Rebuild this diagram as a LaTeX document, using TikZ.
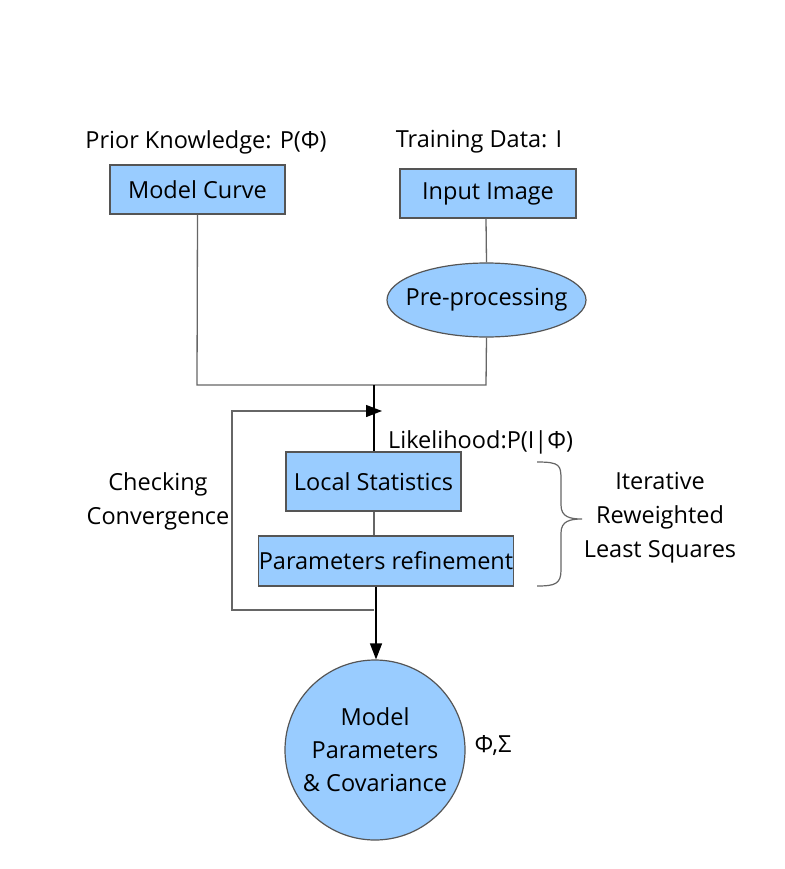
\documentclass[tikz,border=0pt]{standalone}
\usepackage{fontspec}
\setmainfont{Open Sans}
\usetikzlibrary{arrows.meta,shapes.geometric,decorations.pathreplacing}
\definecolor{boxfill}{HTML}{99CCFF}
\definecolor{boxline}{HTML}{555555}
\definecolor{wire}{HTML}{666666}
\begin{document}
\begin{tikzpicture}[x=1pt,y=-1pt,
  txt/.style={font=\fontsize{23.5}{28}\selectfont, inner sep=0pt},
  bluebox/.style={draw=boxline, fill=boxfill, line width=1.2pt, inner sep=0pt, font=\fontsize{23.5}{28}\selectfont},
  wireline/.style={draw=wire, line width=1.3pt},
  mainline/.style={draw=black, line width=1.3pt},
  tip/.style={-{Triangle[length=16pt,width=12pt,color=black]}}
]
\useasboundingbox (0,0) rectangle (784,869);
\fill[white] (0,0) rectangle (784,869);

\node[txt] (prior) at (206,142) {Prior Knowledge: P(Φ)};
\node[txt] (train) at (479,142) {Training Data: I};

\node[bluebox, minimum width=175pt, minimum height=49pt] (curve) at (197.5,189.5) {Model Curve};
\node[bluebox, minimum width=176pt, minimum height=49pt] (input) at (488,193.5) {Input Image};
\node[draw=boxline, fill=boxfill, line width=1.2pt, ellipse, minimum width=199pt, minimum height=74pt, inner xsep=-60pt, inner ysep=0pt, font=\fontsize{23.5}{28}\selectfont] (pre) at (486.5,300) {Pre-processing};

\node[bluebox, minimum width=175pt, minimum height=59pt] (local) at (373.5,481.5) {Local Statistics};
\node[bluebox, minimum width=250pt, minimum height=50pt] (refine) at (386,561) {Parameters refinement};

\node[draw=boxline, fill=boxfill, line width=1.2pt, circle, minimum size=180pt, inner sep=0pt, align=center, font=\fontsize{23.5}{33}\selectfont] (out) at (375,750) {Model\\Parameters\\\& Covariance};

\node[txt, anchor=west] (like) at (388,442) {Likelihood:P(I|Φ)};
\node[txt, align=center, font=\fontsize{23.5}{34}\selectfont] (check) at (158,501) {Checking\\Convergence};
\node[txt, align=center, font=\fontsize{23.5}{34}\selectfont] (irls) at (660,518) {Iterative\\Reweighted\\Least Squares};
\node[txt] (phisig) at (493,745) {Φ,Σ};

\coordinate (junc) at (374,385);
\coordinate (fbr) at (374,610);
\coordinate (fbl) at (232,610);
\coordinate (fbtl) at (232,411);
\coordinate (fbtip) at (382,411);

\draw[wireline] (input.south -| 486,0) -- (pre.north);
\draw[wireline] (curve.south) -- (197,385) -- (486,385) -- (pre.south);
\draw[mainline] (junc) -- (local.north -| junc);
\draw[wireline] (local.south -| junc) -- (refine.north -| junc);
\draw[wireline, tip] (fbr) -- (fbl) -- (fbtl) -- (fbtip);
\draw[mainline, tip] (refine.south -| 376,0) -- (out.north -| 376,0);

\draw[wireline, line width=1.2pt] (537,462) .. controls (560,462) and (561,465) .. (561,480)
  -- (561,505) .. controls (561,517) and (570,519) .. (582,519)
  .. controls (570,519) and (561,521) .. (561,533)
  -- (561,570) .. controls (561,584) and (555,586) .. (537,586);
\end{tikzpicture}
\end{document}
